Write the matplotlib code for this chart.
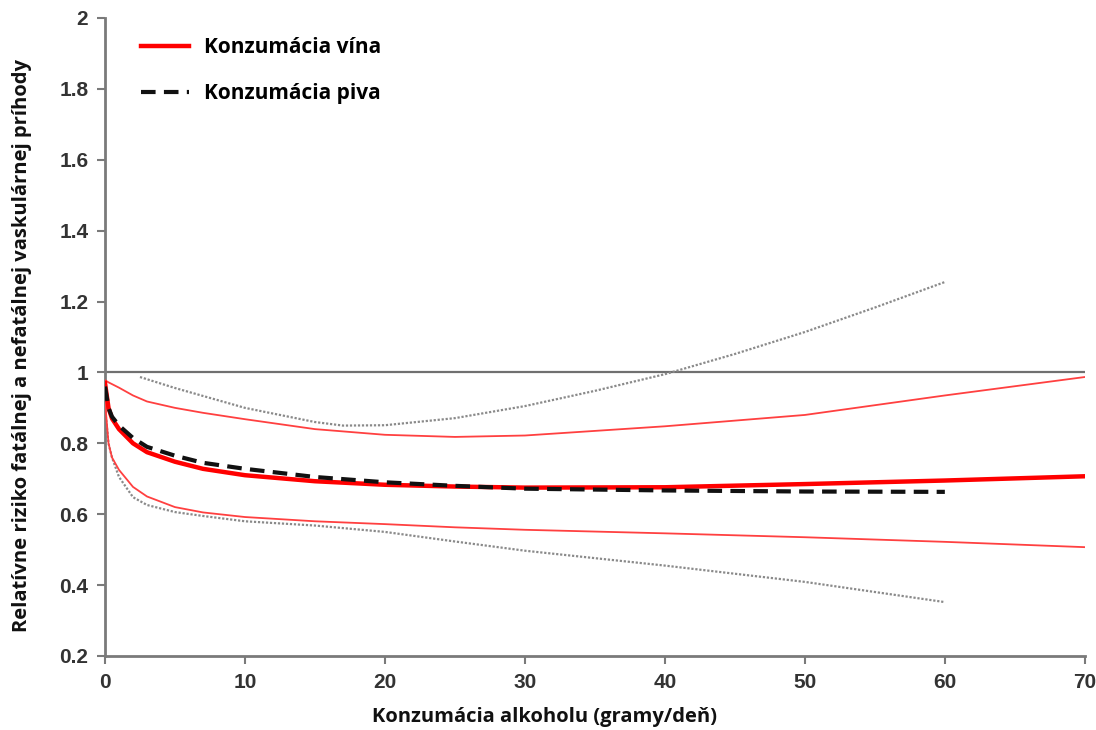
import matplotlib
matplotlib.use("Agg")
import matplotlib.pyplot as plt

# ---- data ----
x_wine = [0, 0.25, 0.5, 1, 2, 3, 5, 7, 10, 15, 20, 25, 30, 40, 50, 60, 70]
wine_mid = [0.97, 0.90, 0.87, 0.84, 0.80, 0.775, 0.748, 0.728, 0.710, 0.693, 0.683, 0.678, 0.675, 0.676, 0.685, 0.695, 0.707]
wine_hi = [0.978, 0.972, 0.967, 0.957, 0.935, 0.918, 0.900, 0.886, 0.868, 0.840, 0.824, 0.818, 0.822, 0.848, 0.880, 0.935, 0.987]
wine_lo = [0.92, 0.80, 0.76, 0.725, 0.677, 0.650, 0.620, 0.605, 0.592, 0.580, 0.572, 0.563, 0.556, 0.546, 0.535, 0.522, 0.507]

x_beer = [0, 0.25, 0.5, 1, 2, 3, 5, 7, 10, 15, 20, 25, 30, 40, 50, 60]
beer_mid = [0.96, 0.90, 0.875, 0.85, 0.815, 0.79, 0.765, 0.745, 0.728, 0.705, 0.690, 0.680, 0.672, 0.667, 0.664, 0.663]
x_beer_hi = [2.5, 5, 10, 15, 17, 20, 25, 30, 35, 40, 45, 50, 55, 60]
beer_hi = [0.987, 0.956, 0.900, 0.860, 0.850, 0.851, 0.871, 0.905, 0.948, 0.995, 1.052, 1.114, 1.183, 1.255]
beer_lo = [0.90, 0.80, 0.76, 0.705, 0.648, 0.626, 0.606, 0.595, 0.580, 0.568, 0.550, 0.523, 0.497, 0.455, 0.409, 0.352]

x_ticks = [0, 10, 20, 30, 40, 50, 60, 70]
y_ticks = [0.2, 0.4, 0.6, 0.8, 1.0, 1.2, 1.4, 1.6, 1.8, 2.0]
y_ticklabels = ["0.2", "0.4", "0.6", "0.8", "1", "1.2", "1.4", "1.6", "1.8", "2"]

label_wine = "Konzumácia vína"
label_beer = "Konzumácia piva"
xlabel = "Konzumácia alkoholu (gramy/deň)"
ylabel = "Relatívne riziko fatálnej a nefatálnej vaskulárnej príhody"

plt.rcParams['font.family'] = ['Liberation Sans', 'DejaVu Sans']
label_font = ['Open Sans', 'DejaVu Sans']

fig = plt.figure(figsize=(10.96, 7.30), dpi=100)
ax = fig.add_axes([0.0958, 0.1014, 0.894, 0.874])

ax.axhline(1.0, color='#707070', lw=1.6, zorder=1)

ax.plot(x_beer_hi, beer_hi, color='#8a8a8a', lw=1.6, ls=(0, (1, 0.8)), zorder=2)
ax.plot(x_beer, beer_lo, color='#8a8a8a', lw=1.6, ls=(0, (1, 0.8)), zorder=2)
ax.plot(x_wine, wine_hi, color='#ff4040', lw=1.3, zorder=3)
ax.plot(x_wine, wine_lo, color='#ff4040', lw=1.3, zorder=3)
ax.plot(x_wine, wine_mid, color='#ff0000', lw=3.2, label=label_wine, zorder=4)
ax.plot(x_beer, beer_mid, color='#111111', lw=3.0, ls=(0, (3.5, 2)), label=label_beer, zorder=5)

ax.set_xlim(0, 70)
ax.set_ylim(0.2, 2.0)
ax.set_xticks(x_ticks)
ax.set_xticklabels([str(t) for t in x_ticks])
ax.set_yticks(y_ticks)
ax.set_yticklabels(y_ticklabels)

for s in ['top', 'right']:
    ax.spines[s].set_visible(False)
for s in ['left', 'bottom']:
    ax.spines[s].set_color('#7a7a7a')
    ax.spines[s].set_linewidth(2)

ax.tick_params(axis='both', direction='out', length=6, width=1.5, color='#7a7a7a',
               labelsize=15, labelcolor='#333333', pad=6)
for lab in ax.get_xticklabels() + ax.get_yticklabels():
    lab.set_fontweight('bold')

ax.set_xlabel(xlabel, fontsize=14.5, fontweight='bold', color='#111111', family=label_font)
ax.set_ylabel(ylabel, fontsize=14.5, fontweight='bold', color='#111111', family=label_font)
ax.xaxis.set_label_coords(0.449, -0.080)
ax.yaxis.set_label_coords(-0.0745, 0.486)

leg = ax.legend(loc='upper left', bbox_to_anchor=(0.018, 0.999), frameon=False,
                handlelength=2.3, handletextpad=0.7, labelspacing=1.2,
                prop={'weight': 'bold', 'size': 15, 'family': label_font})

fig.savefig('out.png', dpi=100)
